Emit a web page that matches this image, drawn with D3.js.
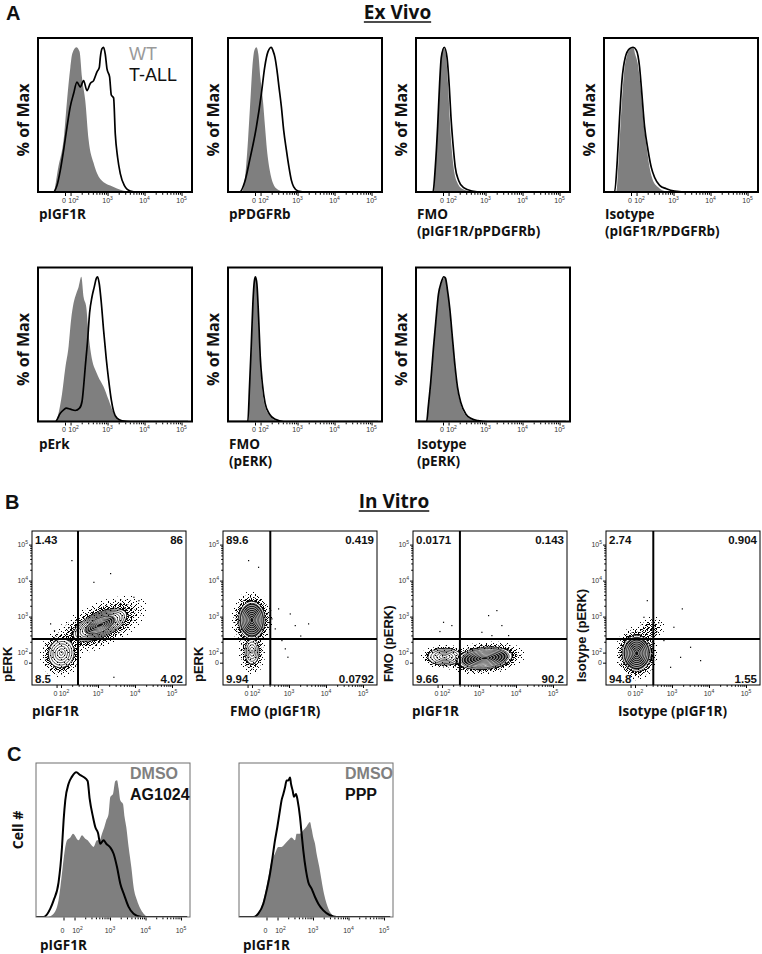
<!DOCTYPE html>
<html><head><meta charset="utf-8">
<script src="https://cdn.jsdelivr.net/npm/d3@7"></script>
<style>body{margin:0;background:#fff}svg{display:block}</style>
</head><body>
<svg id="fig" width="762" height="954"></svg>
<script>
// ================= DATA =================
// Panel A histograms: [fluorescence intensity, % of max]
const aPIGF1R_WT   = [[-480,0],[-210,0],[-122,17],[-14,40],[36,63],[96,86],[111,95.5],[143,100],[175,97],[204,79],[250,63],[308,36],[420,20],[637,9],[1456,3.5],[3350,0.5],[6000,0],[150000,0]];
const aPIGF1R_TALL = [[-480,0],[-210,0],[-144,4.6],[-85,15],[-25,29],[36,45],[95,59],[121,68],[149,76],[183,72.5],[225,77],[278,70],[341,75],[420,77],[518,83],[598,86],[637,93],[708,99],[782,100],[869,95],[966,85],[1135,79.5],[1262,67],[1456,65],[1618,40],[1866,24],[2208,12.7],[2831,4.6],[4120,0.7],[6250,0],[150000,0]];
const aPPDGFRb_WT  = [[-480,0],[-245,0],[-186,8],[-126,36],[-83,63.5],[-47,86.5],[-11,98],[25,100],[61,95],[97,79],[116,63],[132,45],[149,29],[177,15],[217,6],[296,1.6],[499,0],[150000,0]];
const aPPDGFRb_TALL= [[-480,0],[-276,0],[-186,6.9],[-96,22],[25,45],[105,67.8],[129,86],[159,97],[196,100],[217,97.6],[245,93],[278,84],[315,72.5],[365,59],[422,42.6],[499,29],[587,17],[682,8],[787,3.5],[1028,0.7],[1734,0],[150000,0]];
const aFMO1_WT     = [[-480,0],[-181,0],[-139,17],[-97,45],[-61,75],[-31,93],[11,100],[54,94],[90,75],[107,52],[119,33],[137,17],[169,7],[231,2.3],[387,0.5],[700,0],[150000,0]];
const aFMO1_TALL   = [[-480,0],[-181,0],[-139,17],[-97,45],[-61,75],[-31,93],[23,100],[72,93],[105,72],[116,52],[132,33],[152,17],[187,8],[255,3],[430,0.7],[800,0],[150000,0]];
const aISO1_WT     = [[-480,0],[-265,0],[-223,22],[-175,56],[-126,82],[-67,95],[-7,99],[41,100],[77,95],[109,88],[129,72],[159,45],[187,31],[225,17],[278,8],[379,3.5],[573,0.7],[1067,0],[150000,0]];
const aISO1_TALL   = [[-480,0],[-296,0],[-247,22],[-205,52],[-163,77],[-103,93],[-25,99],[36,100],[95,98],[121,86],[134,73],[165,45],[204,29],[250,17],[308,10],[420,4.6],[637,2.3],[1067,0.7],[2455,0],[150000,0]];
const aPERK_WT     = [[-480,0],[-175,0],[-115,6],[-54,19],[5,37],[65,52],[103,70],[121,82],[143,88.5],[165,93],[195,100],[225,86],[266,79],[308,60],[356,47],[518,33],[782,24],[1067,15],[1456,6],[1986,1],[3000,0],[150000,0]];
const aPERK_TALL   = [[-480,0],[-175,0],[-85,5.7],[-25,8],[23,9.2],[95,8.5],[134,7.6],[175,9.2],[204,13.8],[225,24],[250,38],[289,56],[327,75],[379,86],[438,93],[497,98.9],[538,100],[598,95],[678,82],[782,63],[925,43],[1067,29],[1262,15],[1456,7],[1800,2.3],[2455,0.5],[4120,0],[150000,0]];
const aFMO2_WT     = [[-480,0],[-126,0],[-96,24],[-65,52],[-36,82],[-11,97],[7,100],[31,95],[61,70],[90,43],[109,24],[129,11.5],[169,4.6],[241,1.1],[404,0],[150000,0]];
const aFMO2_TALL   = [[-480,0],[-130,0],[-99,24],[-68,52],[-38,82],[-12,97],[8,100],[34,95],[65,72],[94,45],[112,26],[133,12.5],[175,5],[250,1.5],[420,0],[150000,0]];
const aISO2_WT     = [[-480,0],[-289,0],[-260,10.5],[-217,26.7],[-169,50],[-126,68.6],[-79,87],[-31,95],[11,99],[41,100],[72,92],[105,78],[124,58],[146,38],[169,24],[208,12.8],[283,4.6],[387,1.9],[587,0.5],[1000,0],[150000,0]];
const aISO2_TALL   = [[-480,0],[-295,0],[-265,10.5],[-222,27],[-174,50],[-130,69],[-82,88],[-33,96],[14,100],[45,99],[76,92],[108,78],[127,58],[150,38],[174,24],[215,13],[295,5],[410,2],[620,0.6],[1100,0],[150000,0]];
const aXLabels = [["pIGF1R"],["pPDGFRb"],["FMO","(pIGF1R/pPDGFRb)"],["Isotype","(pIGF1R/PDGFRb)"],["pErk"],["FMO","(pERK)"],["Isotype","(pERK)"]];
const aLegend = ["WT","T-ALL"];

// Panel C histograms: [intensity, cell # (relative %)]
const cAG_DMSO = [[-260,0],[-150,0],[-90,2.3],[-45,11.5],[-14,30],[7,43.7],[32,53],[62,55],[86,57.6],[130,53],[163,56.4],[201,54],[234,53],[279,50.6],[345,48.4],[430,53],[509,53],[594,57.6],[690,62],[785,66.8],[912,71.4],[1019,82.9],[1213,85],[1409,94],[1574,94.5],[1746,89],[1950,80.6],[2323,78],[2576,69],[2877,62],[3342,48.4],[3981,34.5],[4613,20.7],[5754,11.5],[7127,5.8],[8830,2.3],[12220,0],[150000,0]];
const cAG_AG1024 = [[-260,0],[-181,0],[-120,5.8],[-90,11.5],[-45,24],[-14,48],[1,67],[16,80.6],[46,92],[77,97],[112,100],[146,98],[180,96.7],[234,94],[266,82],[332,69],[386,62],[459,58],[532,50.6],[659,53],[785,50.6],[1019,48],[1262,43.7],[1574,34.5],[1950,23],[2524,15],[3342,7],[4613,2.3],[7960,0],[150000,0]];
const cPPP_DMSO = [[-260,0],[-105,0],[-59,4.6],[-14,16],[16,27.6],[46,39],[77,43.7],[105,48.4],[130,48.4],[163,50.6],[201,53],[249,55],[311,53],[345,57.6],[430,57.6],[532,60],[634,62],[736,64.5],[822,65.6],[912,61],[1019,55],[1138,50.6],[1262,43.7],[1503,34.5],[1746,25],[2037,16],[2415,9.2],[3006,3.5],[4159,0.5],[6000,0],[150000,0]];
const cPPP_PPP = [[-260,0],[-120,0],[-75,2.3],[-29,9.2],[1,18.4],[32,30],[55,41.4],[77,52.9],[98,62],[117,73.7],[130,80.6],[146,85],[163,89.7],[180,94.3],[201,94.3],[225,96.3],[240,92],[266,87.5],[291,83],[332,85],[368,80.6],[430,69],[477,57.6],[532,46],[634,32],[736,24],[912,19.6],[1138,13.8],[1409,9.2],[1950,4.6],[3006,1.2],[4613,0],[150000,0]];
const cLegends = [["DMSO","AG1024"],["DMSO","PPP"]];

// Panel B contour plots: populations (center intensity x/y, spread in decades, tilt deg, contour levels, dense-core fraction, halo spread)
const bPops1 = [
  {x:1130, y:580, rx:0.78, ry:0.34, angle:25, levels:11, core:0.55, halo:1.8},
  {x:102,  y:93,  rx:0.34, ry:0.40, angle:-15, levels:6, core:0, halo:1.7},
  {x:300,  y:230, rx:0.46, ry:0.22, angle:42, levels:0, core:0, halo:1}
];
const bPops2 = [
  {x:95,  y:800, rx:0.36, ry:0.52, angle:0, levels:9, core:0.88, halo:1.55},
  {x:100, y:106, rx:0.19, ry:0.34, angle:0, levels:5, core:0, halo:1.9}
];
const bPops3 = [
  {x:118,  y:59, rx:0.45, ry:0.23, angle:0, levels:6, core:0, halo:1.45},
  {x:1426, y:44, rx:0.74, ry:0.30, angle:6, levels:9, core:0.85, halo:1.5}
];
const bPops4 = [
  {x:111, y:93,  rx:0.39, ry:0.50, angle:0, levels:9, core:0.88, halo:1.5},
  {x:254, y:425, rx:0.34, ry:0.27, angle:40, levels:0, core:0, halo:1}
];
// sparse outlier events [x, y]
const bOut1 = [[190,37300],[2110,16250],[746,9300],[9000,3570],[12300,2880],[2590,-139],[-148,652],[5200,1800],[3900,2400],[-60,420]];
const bOut2 = [[10,37300],[145,24300],[504,1700],[1042,1230],[1422,584],[3260,652],[620,224],[766,132],[410,473],[333,898],[2000,300],[900,60]];
const bOut3 = [[106,721],[1750,1107],[2930,1524],[4000,585],[1153,380],[2150,308],[6080,308],[13900,250],[178,585],[40,400]];
const bOut4 = [[207,2880],[1830,1700],[1084,525],[3060,146],[1644,59],[5710,26],[883,-40],[582,224],[168,993],[420,700]];
const bGateX = [288, 312, 305, 312];
const bGateY = 239;
const bQuadrants = [["1.43","86","8.5","4.02"],["89.6","0.419","9.94","0.0792"],["0.0171","0.143","9.66","90.2"],["2.74","0.904","94.8","1.55"]];
const bXLabels = ["pIGF1R","FMO (pIGF1R)","pIGF1R","Isotype (pIGF1R)"];
const bYLabels = ["pERK","pERK","FMO (pERK)","Isotype (pERK)"];
const majorTicks = [0, 100, 1000, 10000, 100000];

// ================= DRAWING =================
const svg = d3.select('#fig');
const defs = svg.append('defs');
const SZ = 154;
const OPEN = "'Open Sans', 'Noto Sans', sans-serif";
const ARIAL = "'Liberation Sans', Arial, sans-serif";

// logicle-like display transform (log above 100, compressed linear below)
function makeT(s){ return v => v >= 100 ? Math.log10(v) : 2 + (v - 100) * s; }
const TA = makeT(0.0015), TC = makeT(0.0031), TBx = makeT(0.0012), TBy = makeT(0.0028);
const domA = [1.12, 1.12 + SZ/37], domC = [0.915, 0.915 + SZ/35.5];
const domBx = [1.216, 1.216 + SZ/37], domBy = [1.1, 1.1 + SZ/36];

const minorVals = [];
[2,3,4].forEach(d => d3.range(2,10).forEach(k => minorVals.push(k*Math.pow(10,d))));

function expLabel(g, x, y, v, anchor, dx){
  const t = g.append('text').attr('x', x + (dx||0)).attr('y', y)
    .attr('font-family', ARIAL).attr('font-size', 7).attr('fill', '#333')
    .attr('text-anchor', anchor);
  if (v === 0) t.text('0');
  else { t.text('10'); t.append('tspan').attr('dy', -3).attr('font-size', 5).text(Math.round(Math.log10(v))); }
}

function bottomAxis(g, x, T, y0, dom, labOff){
  const inDom = v => T(v) >= dom[0] && T(v) <= dom[1];
  g.append('g').attr('transform', `translate(0,${y0})`)
    .call(d3.axisBottom(x).tickValues(majorTicks.map(T)).tickSize(3).tickFormat(''))
    .call(a => { a.select('.domain').remove(); a.selectAll('line').attr('stroke','#000'); });
  g.append('g').attr('transform', `translate(0,${y0})`)
    .call(d3.axisBottom(x).tickValues(minorVals.filter(inDom).map(T)).tickSize(1.8).tickFormat(''))
    .call(a => { a.select('.domain').remove(); a.selectAll('line').attr('stroke','#000'); });
  majorTicks.forEach((v, i) => expLabel(g, x(T(v)), y0 + labOff, v, 'middle', i === 1 ? 3 : (i === 0 ? -1 : 0)));
}

function leftAxis(g, y, T, x0){
  g.append('g').attr('transform', `translate(${x0},0)`)
    .call(d3.axisLeft(y).tickValues(majorTicks.map(T)).tickSize(3).tickFormat(''))
    .call(a => { a.select('.domain').remove(); a.selectAll('line').attr('stroke','#000'); });
  g.append('g').attr('transform', `translate(${x0},0)`)
    .call(d3.axisLeft(y).tickValues(minorVals.map(T)).tickSize(1.8).tickFormat(''))
    .call(a => { a.select('.domain').remove(); a.selectAll('line').attr('stroke','#000'); });
  majorTicks.forEach(v => expLabel(g, x0 - 4, y(T(v)) + 2.5, v, 'end', 0));
}

let clipN = 0;
function clipRect(x, y, w, h){
  const id = 'clip' + (clipN++);
  defs.append('clipPath').attr('id', id).append('rect').attr('x', x).attr('y', y).attr('width', w).attr('height', h);
  return `url(#${id})`;
}

function histogram(opt){
  const g = svg.append('g');
  const x = d3.scaleLinear().domain(opt.dom).range([opt.left, opt.left + SZ]);
  const y = d3.scaleLinear().domain([0, 106.4]).range([opt.top + SZ, opt.top]);
  const clip = clipRect(opt.left, opt.top, SZ, SZ);
  const area = d3.area().x(d => x(opt.T(d[0]))).y0(y(0)).y1(d => y(d[1])).curve(d3.curveMonotoneX);
  const line = d3.line().x(d => x(opt.T(d[0]))).y(d => y(d[1])).curve(d3.curveMonotoneX);
  g.append('path').datum(opt.gray).attr('d', area).attr('fill', '#7f7f7f').attr('clip-path', clip);
  g.append('path').datum(opt.line).attr('d', line).attr('fill', 'none').attr('stroke', '#000')
    .attr('stroke-width', opt.lw).attr('stroke-linejoin', 'round').attr('clip-path', clip);
  g.append('rect').attr('x', opt.left).attr('y', opt.top).attr('width', SZ).attr('height', SZ)
    .attr('fill', 'none').attr('stroke', opt.border).attr('stroke-width', opt.bw);
  bottomAxis(g, x, opt.T, opt.top + SZ + opt.bw/2, opt.dom, opt.tickOff);
  opt.xlab.forEach((s, i) => g.append('text').attr('x', opt.left + opt.labDx).attr('y', opt.top + SZ + opt.labDy + i*17)
    .attr('font-family', OPEN).attr('font-weight', 700).attr('font-size', 13.5).attr('fill', '#111').text(s));
  g.append('text').attr('transform', `translate(${opt.left - opt.ylabDx},${opt.top + SZ/2 + opt.ylabDy}) rotate(-90)`)
    .attr('text-anchor', 'middle').attr('font-family', OPEN).attr('font-weight', 700)
    .attr('font-size', opt.ylabSize).attr('fill', '#111').text(opt.ylab);
  return g;
}

// ---------- Panel A ----------
const aSeries = [[aPIGF1R_WT,aPIGF1R_TALL],[aPPDGFRb_WT,aPPDGFRb_TALL],[aFMO1_WT,aFMO1_TALL],[aISO1_WT,aISO1_TALL],
                 [aPERK_WT,aPERK_TALL],[aFMO2_WT,aFMO2_TALL],[aISO2_WT,aISO2_TALL]];
const aPos = [[38,38],[228,38],[416,38],[604,38],[38,267.5],[228,267.5],[416,267.5]];
aSeries.forEach((s, i) => {
  const g = histogram({left:aPos[i][0], top:aPos[i][1], dom:domA, T:TA, gray:s[0], line:s[1], lw:1.7,
    border:'#000', bw:2, tickOff:9.5, xlab:aXLabels[i], labDx:1, labDy:27, ylab:'% of Max', ylabDx:9, ylabDy:5, ylabSize:16});
  if (i === 0){
    g.append('text').attr('x', 129).attr('y', 60).attr('font-family', ARIAL).attr('font-size', 18).attr('fill', '#9a9a9a').text(aLegend[0]);
    g.append('text').attr('x', 129).attr('y', 80.5).attr('font-family', ARIAL).attr('font-size', 18).attr('fill', '#111').text(aLegend[1]);
  }
});

// ---------- Panel C ----------
const cSeries = [[cAG_DMSO, cAG_AG1024],[cPPP_DMSO, cPPP_PPP]];
const cPos = [[36,763],[239,763]];
cSeries.forEach((s, i) => {
  const g = histogram({left:cPos[i][0], top:cPos[i][1], dom:domC, T:TC, gray:s[0], line:s[1], lw:2,
    border:'#6e6e6e', bw:1, tickOff:15, xlab:['pIGF1R'], labDx:4, labDy:33, ylab: i === 0 ? 'Cell #' : '', ylabDx:13, ylabDy:-10, ylabSize:14});
  const lx = cPos[i][0] + 94 + (i === 1 ? 12 : 0);
  g.append('text').attr('x', lx).attr('y', 779).attr('font-family', ARIAL).attr('font-weight', 700).attr('font-size', 16).attr('fill', '#808080').text(cLegends[i][0]);
  g.append('text').attr('x', lx).attr('y', 800).attr('font-family', ARIAL).attr('font-weight', 700).attr('font-size', 16).attr('fill', '#111').text(cLegends[i][1]);
});

// ---------- Panel B ----------
function pattern(id, size, dots){
  const p = defs.append('pattern').attr('id', id).attr('patternUnits', 'userSpaceOnUse').attr('width', size).attr('height', size);
  dots.forEach(([a, b]) => p.append('rect').attr('x', a).attr('y', b).attr('width', 1).attr('height', 1).attr('fill', '#000'));
}
pattern('dS7', 7, [[1,4],[5,1],[3,6]]);
pattern('dS5', 5, [[0,0],[3,2],[1,4]]);
pattern('dM', 4, [[0,0],[2,1],[1,3],[3,2],[3,0]]);
pattern('dD', 3, [[0,0],[1,1],[2,2],[2,0],[0,1]]);

const bPops = [bPops1, bPops2, bPops3, bPops4];
const bOut = [bOut1, bOut2, bOut3, bOut4];
const bLeft = [32, 223, 413, 606];
const bXLabDx = [0, 7, -1, 12];
const bTop = 531;

bPops.forEach((pops, i) => {
  const left = bLeft[i];
  const g = svg.append('g');
  const x = d3.scaleLinear().domain(domBx).range([left, left + SZ]);
  const y = d3.scaleLinear().domain(domBy).range([bTop + SZ, bTop]);
  const clip = clipRect(left, bTop, SZ, SZ);
  const pg = g.append('g').attr('clip-path', clip);
  const ell = (c, k) => {
    const a = c.angle * Math.PI / 180, cx = TBx(c.x), cy = TBy(c.y);
    const pts = d3.range(90).map(j => {
      const t = j / 90 * 2 * Math.PI;
      const ex = c.rx * k * Math.cos(t), ey = c.ry * k * Math.sin(t);
      return [x(cx + ex*Math.cos(a) - ey*Math.sin(a)), y(cy + ex*Math.sin(a) + ey*Math.cos(a))];
    });
    return d3.line().curve(d3.curveLinearClosed)(pts);
  };
  // halos of events
  pops.forEach(c => {
    if (c.levels === 0){
      pg.append('path').attr('d', ell(c, 1.25)).attr('fill', 'url(#dS7)');
      pg.append('path').attr('d', ell(c, 1.0)).attr('fill', 'url(#dS5)');
      pg.append('path').attr('d', ell(c, 0.7)).attr('fill', 'url(#dM)');
    } else {
      pg.append('path').attr('d', ell(c, c.halo)).attr('fill', 'url(#dS7)');
      pg.append('path').attr('d', ell(c, 1 + (c.halo - 1)*0.7)).attr('fill', 'url(#dS5)');
      pg.append('path').attr('d', ell(c, 1 + (c.halo - 1)*0.4)).attr('fill', 'url(#dM)');
    }
  });
  // outlier events
  pg.selectAll('rect.ev').data(bOut[i]).join('rect').attr('class', 'ev')
    .attr('x', d => x(TBx(d[0]))).attr('y', d => y(TBy(d[1]))).attr('width', 1.2).attr('height', 1.2).attr('fill', '#000');
  // contours
  pops.filter(c => c.levels > 0).forEach(c => {
    pg.append('path').attr('d', ell(c, 1.08)).attr('fill', 'url(#dD)');
    pg.append('path').attr('d', ell(c, 1.0)).attr('fill', '#fff');
    pg.append('path').attr('d', ell(c, 1.0)).attr('fill', 'url(#dS7)');
    if (c.core > 0) pg.append('path').attr('d', ell(c, c.core)).attr('fill', '#111');
    const ks = d3.range(c.levels).map(j => 1 - j * (0.86 / (c.levels - 1)));
    ks.forEach(k => pg.append('path').attr('d', ell(c, k)).attr('fill', 'none')
      .attr('stroke', k > c.core + 0.01 ? '#000' : '#fff').attr('stroke-width', 0.75));
  });
  // quadrant gates
  g.append('line').attr('x1', x(TBx(bGateX[i]))).attr('x2', x(TBx(bGateX[i]))).attr('y1', bTop).attr('y2', bTop + SZ)
    .attr('stroke', '#000').attr('stroke-width', 2);
  g.append('line').attr('x1', left).attr('x2', left + SZ).attr('y1', y(TBy(bGateY))).attr('y2', y(TBy(bGateY)))
    .attr('stroke', '#000').attr('stroke-width', 2);
  g.append('rect').attr('x', left).attr('y', bTop).attr('width', SZ).attr('height', SZ)
    .attr('fill', 'none').attr('stroke', '#000').attr('stroke-width', 1);
  // quadrant frequencies
  const q = bQuadrants[i];
  const qpos = [[left + 3, bTop + 12.5, 'start'], [left + SZ - 3, bTop + 12.5, 'end'],
                [left + 3, bTop + SZ - 2.5, 'start'], [left + SZ - 3, bTop + SZ - 2.5, 'end']];
  q.forEach((s, j) => g.append('text').attr('x', qpos[j][0]).attr('y', qpos[j][1]).attr('text-anchor', qpos[j][2])
    .attr('font-family', ARIAL).attr('font-weight', 700).attr('font-size', 11.5).attr('fill', '#111').text(s));
  bottomAxis(g, x, TBx, bTop + SZ, domBx, 11);
  leftAxis(g, y, TBy, left);
  g.append('text').attr('x', left + bXLabDx[i]).attr('y', bTop + SZ + 31).attr('font-family', OPEN)
    .attr('font-weight', 700).attr('font-size', 13.5).attr('fill', '#111').text(bXLabels[i]);
  g.append('text').attr('transform', `translate(${left - 20},682) rotate(-90)`).attr('font-family', ARIAL)
    .attr('font-weight', 700).attr('font-size', 13).attr('fill', '#111').text(bYLabels[i]);
});

// ---------- Titles ----------
[['A', 6, 20], ['B', 5, 509], ['C', 7, 761]].forEach(([s, xx, yy]) =>
  svg.append('text').attr('x', xx).attr('y', yy).attr('font-family', ARIAL).attr('font-weight', 700).attr('font-size', 20).attr('fill', '#111').text(s));
[['Ex Vivo', 397.5, 19], ['In Vitro', 394, 508]].forEach(([s, xx, yy]) => {
  const t = svg.append('text').attr('x', xx).attr('y', yy).attr('text-anchor', 'middle').attr('font-family', OPEN)
    .attr('font-weight', 700).attr('font-size', 19).attr('fill', '#111').text(s);
  const bb = t.node().getBBox();
  svg.append('line').attr('x1', bb.x).attr('x2', bb.x + bb.width).attr('y1', yy + 3).attr('y2', yy + 3)
    .attr('stroke', '#111').attr('stroke-width', 1.6);
});
</script>
</body></html>
